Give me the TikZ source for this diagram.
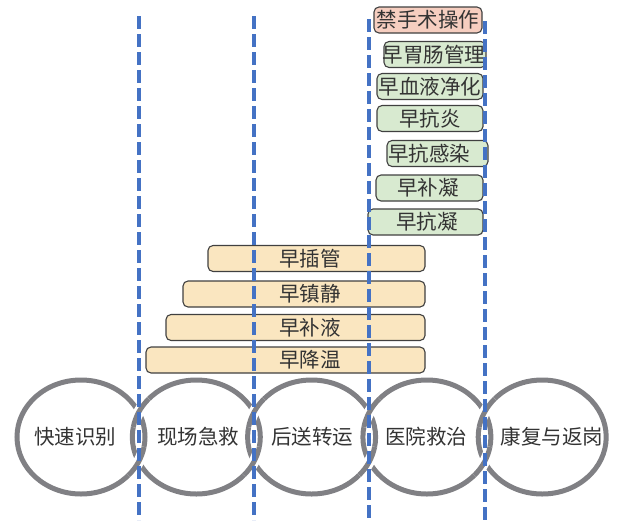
\documentclass[tikz,border=0pt]{standalone}
\usepackage{fontspec}
\newfontfamily\cjk{Noto Sans CJK SC}
\usetikzlibrary{shapes.geometric,calc}
\definecolor{ringgray}{RGB}{128,128,132}
\definecolor{stageblue}{RGB}{68,114,196}
\definecolor{barfill}{RGB}{250,230,192}
\definecolor{greenfill}{RGB}{216,234,208}
\definecolor{pinkfill}{RGB}{246,206,192}
\definecolor{boxline}{RGB}{64,64,64}
\tikzset{ring/.style={draw=ringgray, ellipse, line width=5pt, minimum width=128pt, minimum height=114pt, inner sep=0pt}}
\tikzset{ring over/.style={draw=ringgray, line width=5pt, preaction={draw=white, line width=11pt}}}
\tikzset{measure/.style={draw=boxline, line width=1.1pt, rounded corners=5pt, minimum height=26pt, inner sep=0pt}}
\tikzset{lbl/.style={text=black!80, font=\cjk\fontsize{20.5}{24}\selectfont, inner sep=0pt}}
\tikzset{stage line/.style={draw=stageblue, line width=4pt, dash pattern=on 13pt off 5pt}}

\begin{document}
\begin{tikzpicture}[x=1pt, y=-1pt]
\useasboundingbox (0,0) rectangle (618,520);
% early measures along the chain
\foreach \nm/\xa/\xb/\yc/\txt in {ins/208/425/258.5/早插管, sed/183/425/294/早镇静,
    flu/166/425/327.5/早补液, cool/146/425/360/早降温}
{
  \node[measure, fill=barfill, minimum width={\xb-\xa}] (\nm) at ({(\xa+\xb)/2},\yc) {};
  \node[lbl] (\nm-t) at (310,\yc) {\txt};
}
% hospital measures
\node[measure, fill=pinkfill, minimum width=108] (ban) at (428,20) {};
\node[lbl] (ban-t) at (428,20) {禁手术操作};
\foreach \nm/\xa/\xb/\yc/\tx/\txt in {gut/384/486/54.5/434/早胃肠管理, blood/377/483/86.5/430/早血液净化,
    inflam/377/483/118.5/430/早抗炎, infect/387/488/153.5/429/早抗感染,
    coag/376/483/188/428/早补凝, anti/368/483/222/427/早抗凝}
{
  \node[measure, fill=greenfill, minimum width={\xb-\xa}] (\nm) at ({(\xa+\xb)/2},\yc) {};
  \node[lbl] (\nm-t) at (\tx,\yc) {\txt};
}
% chain of rings
\foreach \i/\tx/\txt in {1/75/快速识别, 2/198/现场急救, 3/312/后送转运, 4/426/医院救治, 5/552/康复与返岗}
{
  \node[ring] (r\i) at ({81+115.3*(\i-1)},437) {};
  \node[lbl] (r\i-t) at (\tx,437) {\txt};
}
\foreach \i/\j in {1/2, 2/3, 3/4, 4/5}
{
  \draw[ring over] ($(r\j.center)+(190:64 and 57)$) arc[start angle=190, end angle=222, x radius=64, y radius=57];
  \draw[ring over] ($(r\i.center)+(10:64 and 57)$) arc[start angle=10, end angle=42, x radius=64, y radius=57];
}
% stage borders
\foreach \x/\top in {138.7/16, 254/16, 369.2/19, 484.5/21}
  \draw[stage line] (\x,\top) -- (\x,520);
\end{tikzpicture}
\end{document}
